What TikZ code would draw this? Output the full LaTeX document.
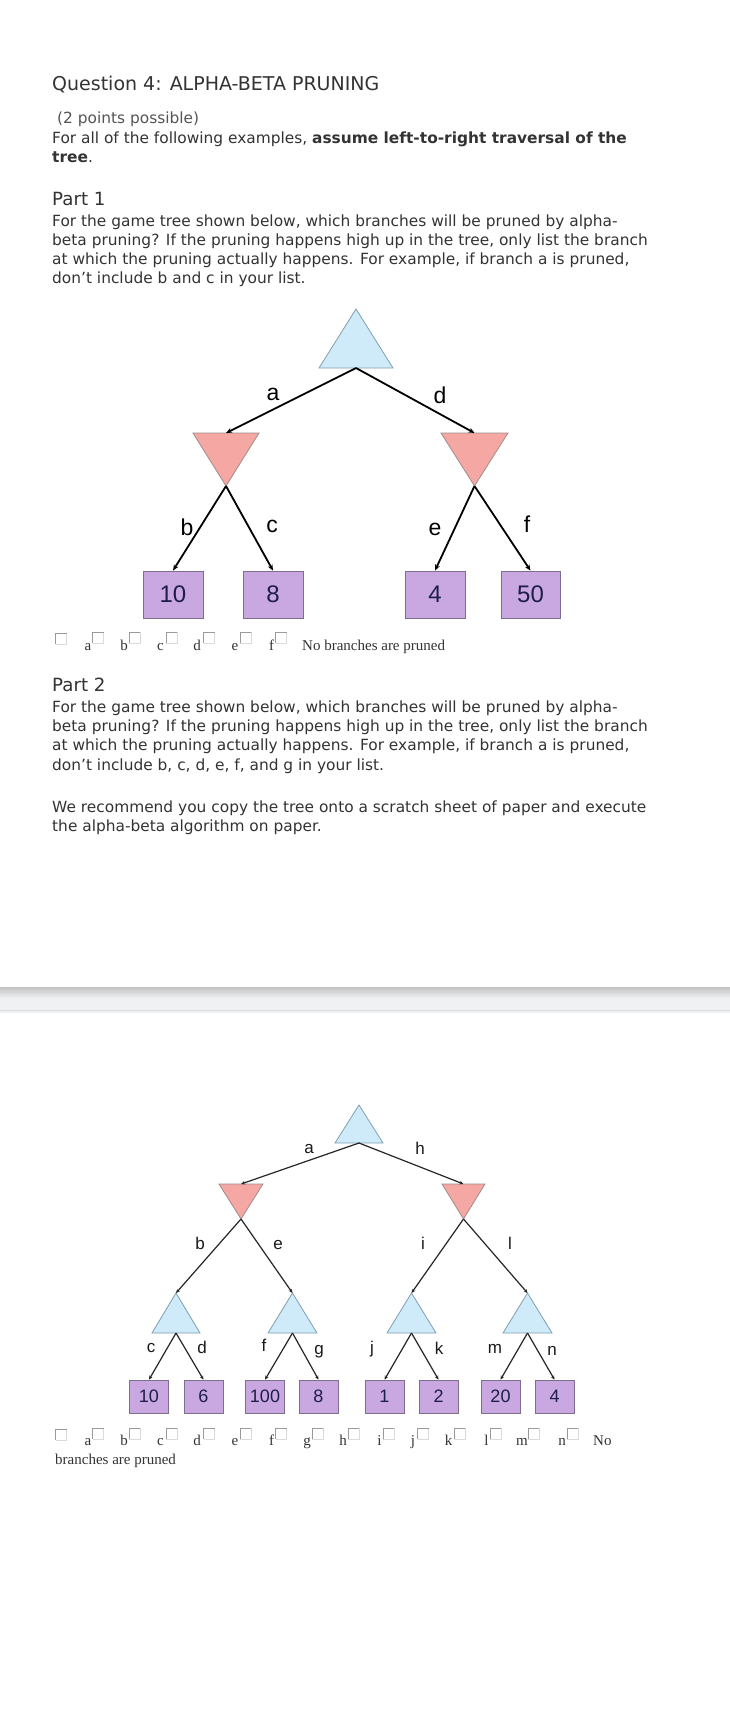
\documentclass[tikz,border=0pt]{standalone}
\usepackage{fontspec}
\setmainfont{DejaVu Sans}
\newfontfamily\arialf{Liberation Sans}
\newfontfamily\serf{Liberation Serif}
\usetikzlibrary{arrows.meta}
\definecolor{txt}{HTML}{333333}
\definecolor{subtxt}{HTML}{555555}
\definecolor{maxfill}{HTML}{CFEAF8}
\definecolor{maxline}{HTML}{7F9FB2}
\definecolor{minfill}{HTML}{F4A7A3}
\definecolor{minline}{HTML}{A08C8C}
\definecolor{leaffill}{HTML}{C9A8E2}
\definecolor{leafline}{HTML}{7E6E8E}
\definecolor{leaftxt}{HTML}{1E1E48}
\definecolor{cbdark}{HTML}{9A9A9A}
\definecolor{cblight}{HTML}{DADADA}
\definecolor{barfill}{HTML}{F0F1F3}
\definecolor{bartop}{HTML}{C2C2C2}
\definecolor{barline}{HTML}{DDDDDD}
\begin{document}
\begin{tikzpicture}[x=1pt,y=-1pt,
  body/.style={anchor=base west,inner sep=0,text=txt,font=\fontsize{15.4}{19}\selectfont},
  sub/.style={anchor=base west,inner sep=0,text=subtxt,font=\fontsize{15.4}{19}\selectfont},
  head/.style={anchor=base west,inner sep=0,text=txt,font=\fontsize{18.2}{22}\selectfont},
  ttl/.style={anchor=base west,inner sep=0,text=txt,font=\fontsize{19}{23}\selectfont},
  maxtri/.style={fill=maxfill,draw=maxline,line width=0.8pt},
  mintri/.style={fill=minfill,draw=minline,line width=0.8pt},
  leafA/.style={draw=leafline,fill=leaffill,line width=0.8pt,minimum width=60pt,minimum height=47pt,inner sep=0,text=leaftxt,font=\arialf\fontsize{24}{24}\selectfont},
  leafB/.style={draw=leafline,fill=leaffill,line width=0.7pt,minimum width=39pt,minimum height=33pt,inner sep=0,text=leaftxt,font=\arialf\fontsize{18}{18}\selectfont},
  edgeA/.style={draw=black,line width=1.8pt,-{Stealth[length=6pt,width=5pt]}},
  edgeB/.style={draw=black!85,line width=1.2pt,-{Stealth[length=4pt,width=3.5pt]}},
  lblA/.style={anchor=base,inner sep=0,text=black,font=\arialf\fontsize{23}{23}\selectfont},
  lblB/.style={anchor=base,inner sep=0,text=black!90,font=\arialf\fontsize{17}{17}\selectfont},
  chklbl/.style={anchor=base,inner sep=0,text=txt,font=\serf\fontsize{15}{18}\selectfont},
  chktxt/.style={anchor=base west,inner sep=0,text=txt,font=\serf\fontsize{15}{18}\selectfont},
  chk/.pic={
    \fill[white] (0,0) rectangle (11,11);
    \draw[cblight,line width=0.8pt] (0,11) -- (11,11) -- (11,0);
    \draw[cbdark,line width=0.9pt] (0,11) -- (0,0) -- (11,0);
  }
]
\fill[white] (0,0) rectangle (730,1716);
\useasboundingbox (0,0) rectangle (730,1716);

% ---------- header text ----------
\node[ttl] (title) at (52,90) {Question 4: ALPHA-BETA PRUNING};
\node[sub] (pts) at (57,123) {(2 points possible)};
\node[body] (ins1) at (52,143) {For all of the following examples, \textbf{assume left-to-right traversal of the}};
\node[body] (ins2) at (52,162) {\textbf{tree}.};

\node[head] (p1) at (52,205) {Part 1};
\node[body] (p1a) at (52,226) {For the game tree shown below, which branches will be pruned by alpha-};
\node[body] (p1b) at (52,245) {beta pruning? If the pruning happens high up in the tree, only list the branch};
\node[body] (p1c) at (52,264) {at which the pruning actually happens. For example, if branch a is pruned,};
\node[body] (p1d) at (52,283) {don’t include b and c in your list.};

% ---------- tree 1 ----------
\filldraw[maxtri] (356,309) -- (393,368) -- (319,368) -- cycle;
\filldraw[mintri] (193,433) -- (259,433) -- (226,486) -- cycle;
\filldraw[mintri] (441,433) -- (508,433) -- (474.5,486) -- cycle;
\coordinate (t1r) at (356,368);
\coordinate (t1L) at (226,433);
\coordinate (t1La) at (226,486);
\coordinate (t1R) at (474.5,433);
\coordinate (t1Ra) at (474.5,486);
\node[leafA] (l10) at (173,594.5) {10};
\node[leafA] (l8) at (273,594.5) {8};
\node[leafA] (l4) at (435,594.5) {4};
\node[leafA,minimum width=59pt] (l50) at (530.5,594.5) {50};
\draw[edgeA] (t1r) -- (t1L);
\draw[edgeA] (t1r) -- (t1R);
\draw[edgeA] (t1La) -- (l10.north);
\draw[edgeA] (t1La) -- (l8.north);
\draw[edgeA] (t1Ra) -- (l4.north);
\draw[edgeA] (t1Ra) -- (l50.north);
\node[lblA] (ta) at (273,400) {a};
\node[lblA] (td) at (440,403) {d};
\node[lblA] (tb) at (187,535) {b};
\node[lblA] (tc) at (272,532) {c};
\node[lblA] (te) at (435,535) {e};
\node[lblA] (tf) at (527,532) {f};

% ---------- checkbox row 1 ----------
\pic at (55.5,633) {chk};
\foreach \lt/\lx/\bx in {a/88/92.5,b/124/129,c/160.5/166,d/197/203.5,e/235/240,f/271.5/275.5}{
  \node[chklbl] (ra\lt) at (\lx,650) {\lt};
  \pic at (\bx,632) {chk};
}
\node[chktxt] (ranone) at (302,650) {No branches are pruned};

% ---------- part 2 text ----------
\node[head] (p2) at (52,691) {Part 2};
\node[body] (p2a) at (52,712) {For the game tree shown below, which branches will be pruned by alpha-};
\node[body] (p2b) at (52,731) {beta pruning? If the pruning happens high up in the tree, only list the branch};
\node[body] (p2c) at (52,750) {at which the pruning actually happens. For example, if branch a is pruned,};
\node[body] (p2d) at (52,770) {don’t include b, c, d, e, f, and g in your list.};
\node[body] (p2e) at (52,812) {We recommend you copy the tree onto a scratch sheet of paper and execute};
\node[body] (p2f) at (52,831) {the alpha-beta algorithm on paper.};

% ---------- separator bar ----------
\fill[barfill] (0,987) rectangle (730,1013);
\shade[top color=bartop,bottom color=barfill] (0,987) rectangle (730,998);
\draw[barline,line width=1pt] (0,1010.5) -- (730,1010.5);

% ---------- tree 2 ----------
\filldraw[maxtri] (359,1105) -- (383,1143) -- (335,1143) -- cycle;
\filldraw[mintri] (219,1184) -- (263,1184) -- (241,1219) -- cycle;
\filldraw[mintri] (442,1184) -- (485,1184) -- (463.5,1219) -- cycle;
\filldraw[maxtri] (176,1293) -- (200,1333) -- (152,1333) -- cycle;
\filldraw[maxtri] (292.5,1293) -- (317,1333) -- (268,1333) -- cycle;
\filldraw[maxtri] (411.5,1293) -- (436,1333) -- (387,1333) -- cycle;
\filldraw[maxtri] (527.5,1293) -- (552,1333) -- (503,1333) -- cycle;
\coordinate (t2r) at (359,1143);
\coordinate (t2L) at (241,1184);
\coordinate (t2La) at (241,1219);
\coordinate (t2R) at (463.5,1184);
\coordinate (t2Ra) at (463.5,1219);
\coordinate (m1t) at (176,1293);
\coordinate (m1b) at (176,1333);
\coordinate (m2t) at (292.5,1293);
\coordinate (m2b) at (292.5,1333);
\coordinate (m3t) at (411.5,1293);
\coordinate (m3b) at (411.5,1333);
\coordinate (m4t) at (527.5,1293);
\coordinate (m4b) at (527.5,1333);
\node[leafB] (k10) at (149,1396.5) {10};
\node[leafB] (k6) at (203.5,1396.5) {6};
\node[leafB] (k100) at (265,1396.5) {100};
\node[leafB] (k8) at (318.5,1396.5) {8};
\node[leafB] (k1) at (384.5,1396.5) {1};
\node[leafB] (k2) at (438.5,1396.5) {2};
\node[leafB] (k20) at (500.5,1396.5) {20};
\node[leafB] (k4) at (554.5,1396.5) {4};
\draw[edgeB] (t2r) -- (t2L);
\draw[edgeB] (t2r) -- (t2R);
\draw[edgeB] (t2La) -- (m1t);
\draw[edgeB] (t2La) -- (m2t);
\draw[edgeB] (t2Ra) -- (m3t);
\draw[edgeB] (t2Ra) -- (m4t);
\draw[edgeB] (m1b) -- (k10.north);
\draw[edgeB] (m1b) -- (k6.north);
\draw[edgeB] (m2b) -- (k100.north);
\draw[edgeB] (m2b) -- (k8.north);
\draw[edgeB] (m3b) -- (k1.north);
\draw[edgeB] (m3b) -- (k2.north);
\draw[edgeB] (m4b) -- (k20.north);
\draw[edgeB] (m4b) -- (k4.north);
\node[lblB] (ua) at (309,1153) {a};
\node[lblB] (uh) at (420,1154) {h};
\node[lblB] (ub) at (200,1249) {b};
\node[lblB] (ue) at (278,1249) {e};
\node[lblB] (ui) at (423,1249) {i};
\node[lblB] (ul) at (510,1249) {l};
\node[lblB] (uc) at (151,1352) {c};
\node[lblB] (ud) at (202,1353) {d};
\node[lblB] (uf) at (264,1351) {f};
\node[lblB] (ug) at (319,1354) {g};
\node[lblB] (uj) at (372,1353) {j};
\node[lblB] (uk) at (439,1354) {k};
\node[lblB] (um) at (495,1353) {m};
\node[lblB] (un) at (552,1355) {n};

% ---------- checkbox row 2 ----------
\pic at (55.5,1429) {chk};
\foreach \lt/\lx/\bx in {a/88/92.5,b/124/129,c/160.5/166,d/197/203.5,e/235/240,f/271.5/275.5,g/307/312,h/343/348,i/379.5/383,j/413/417.5,k/448.5/454,l/486.5/490,m/522/528,n/562/567}{
  \node[chklbl] (rb\lt) at (\lx,1445) {\lt};
  \pic at (\bx,1428) {chk};
}
\node[chktxt] (rbno) at (593,1445) {No};
\node[chktxt] (rbrest) at (55,1464) {branches are pruned};
\end{tikzpicture}
\end{document}
